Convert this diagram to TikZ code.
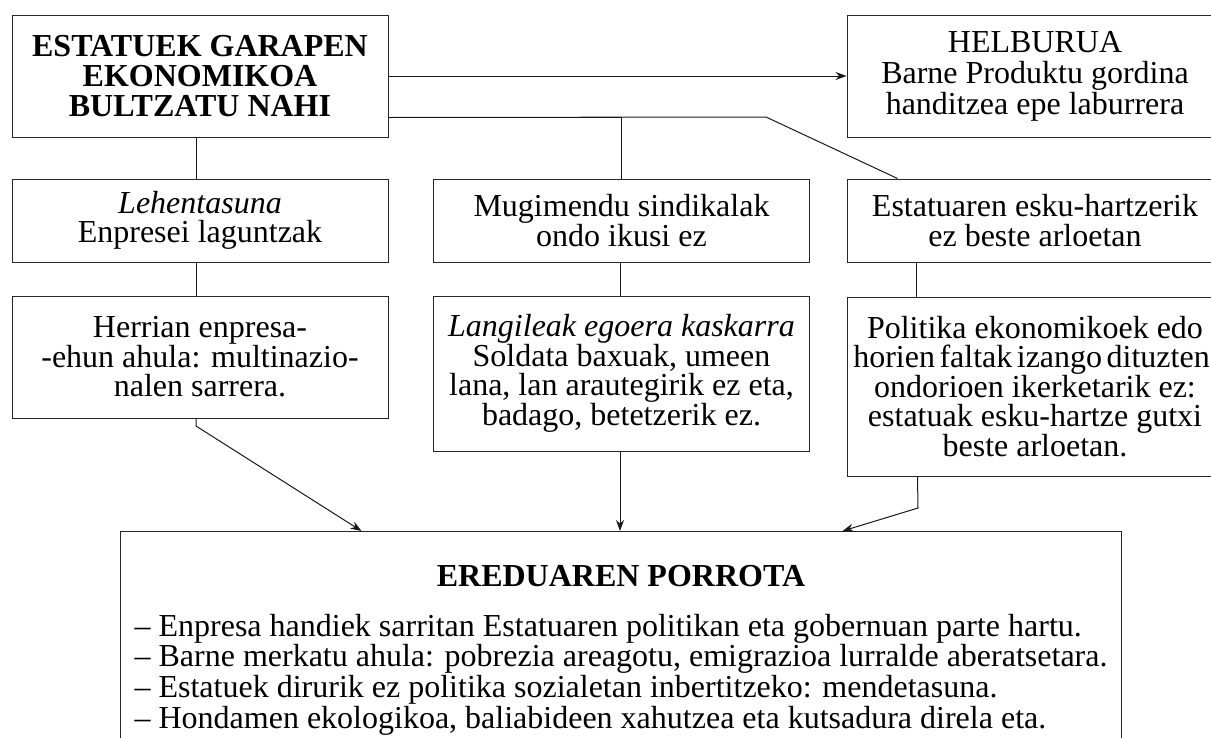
\documentclass[tikz,border=0pt]{standalone}
\usepackage{fontspec}
\setmainfont{Liberation Serif}
\usetikzlibrary{arrows.meta}
\tikzset{
  box/.style={draw=black!85, line width=1pt, rectangle, inner sep=0pt, minimum width=376pt,
    align=center, font=\fontsize{32}{29.5}\selectfont},
  conn/.style={line width=1pt, draw=black!90},
  arr/.style={conn, -{Stealth[length=11pt,width=8pt]}}
}
\begin{document}
\begin{tikzpicture}[x=1pt,y=-1pt]
\useasboundingbox (0,0) rectangle (1211,737);
\clip (0,0) rectangle (1211,737);
% row 1
\node[box, minimum height=122pt, font=\fontsize{32}{30}\selectfont\bfseries] (A) at (200,76) {ESTATUEK GARAPEN\\EKONOMIKOA\\BULTZATU NAHI};
\node[box, minimum height=122pt, font=\fontsize{32}{31}\selectfont] (H) at (1035,76) {HELBURUA\\Barne Produktu gordina\\handitzea epe laburrera};
% row 2
\node[box, minimum height=83pt] (L2) at (200,220.5) {\textit{Lehentasuna}\\Enpresei laguntzak};
\node[box, minimum height=83pt] (M2) at (621.5,220.5) {Mugimendu sindikalak\\ondo ikusi ez};
\node[box, minimum height=83pt] (R2) at (1035,220.5) {Estatuaren esku-hartzerik\\ez beste arloetan};
% row 3
\node[box, minimum height=122pt] (L3) at (200,357) {Herrian enpresa-\\-ehun ahula: multinazio-\\nalen sarrera.};
\node[box, minimum height=155pt] (M3) at (621.5,373.5) {\textit{Langileak egoera kaskarra}\\Soldata baxuak, umeen\\lana, lan arautegirik ez eta,\\badago, betetzerik ez.};
\node[box, minimum height=179pt] (R3) at (1035,386.5) {Politika ekonomikoek edo\\\hspace*{-7pt}horien\hspace{4.5pt}faltak\hspace{4.5pt}izango\hspace{4.5pt}dituzten\\ondorioen ikerketarik ez:\\estatuak esku-hartze gutxi\\beste arloetan.};
% bottom
\node[box, minimum width=1001pt, minimum height=240pt, anchor=north] (bot) at (620.5,531) {};
\node[inner sep=0pt, font=\fontsize{32}{28.5}\selectfont] (bottxt) at (621,651) {%
\begin{tabular}{@{}l@{}}
\multicolumn{1}{@{}c@{}}{\textbf{EREDUAREN PORROTA}}\\[19pt]
\textendash{} Enpresa handiek sarritan Estatuaren politikan eta gobernuan parte hartu.\\
\textendash{} Barne merkatu ahula: pobrezia areagotu, emigrazioa lurralde aberatsetara.\\
\textendash{} Estatuek dirurik ez politika sozialetan inbertitzeko: mendetasuna.\\
\textendash{} Hondamen ekologikoa, baliabideen xahutzea eta kutsadura direla eta.
\end{tabular}};
% coordinates
\coordinate (bend) at (766,117);
\coordinate (lk) at (196,426);
\coordinate (rk) at (918,508);
% connectors
\draw[arr] (A) -- (H);
\draw[conn] ([yshift=20pt]A.south east) -| (M2.north);
\draw[conn] ([yshift=20pt]A.south east) -- (bend) -- ([xshift=51pt]R2.north west);
\draw[conn] ([xshift=-4pt]A.south) -- ([xshift=-4pt]L2.north);
\draw[conn] ([xshift=-4pt]L2.south) -- ([xshift=-4pt]L3.north);
\draw[conn] ([xshift=-1.5pt]M2.south) -- ([xshift=-1.5pt]M3.north);
\draw[conn] ([xshift=70pt]R2.south west) -- ([xshift=70pt]R3.north west);
\draw[arr] ([xshift=-4pt]L3.south) -- (lk) -- ([xshift=242pt]bot.north west);
\draw[arr] ([xshift=-1.5pt]M3.south) -- ([xshift=-1.5pt]M3.south |- bot.north);
\draw[arr] ([xshift=71pt]R3.south west) -- (rk) -- ([xshift=723pt]bot.north west);
\end{tikzpicture}
\end{document}
